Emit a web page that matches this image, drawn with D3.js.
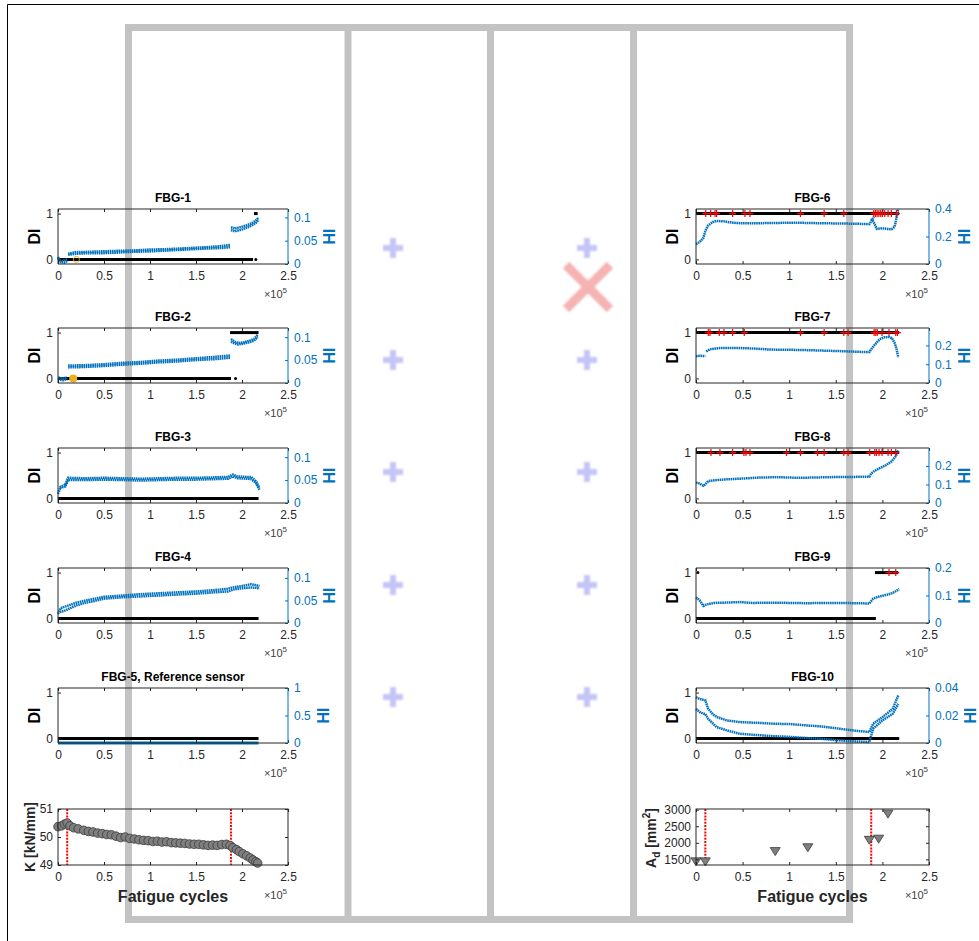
<!DOCTYPE html>
<html><head><meta charset="utf-8">
<script src="https://cdn.jsdelivr.net/npm/d3@7"></script>
<style>body{margin:0;background:#fff}svg{display:block}text{font-family:"Liberation Sans",Arial,Helvetica,sans-serif}</style>
</head><body><svg id="c" width="979" height="941"></svg>
<script>
// ---------------- DATA (cycles in units of 1e5) ----------------
const xTicks = [0, 0.5, 1, 1.5, 2, 2.5];
const diTicks = [0, 1];
const titles = ["FBG-1","FBG-2","FBG-3","FBG-4","FBG-5, Reference sensor","FBG-6","FBG-7","FBG-8","FBG-9","FBG-10"];
const hiMax = [0.118, 0.12, 0.12, 0.122, 1, 0.4, 0.293, 0.297, 0.2, 0.04];
const hiTicks = [[0,0.05,0.1],[0,0.05,0.1],[0,0.05,0.1],[0,0.05,0.1],[0,0.5,1],[0,0.2,0.4],[0,0.1,0.2],[0,0.1,0.2],[0,0.1,0.2],[0,0.02,0.04]];

// DI segments: [start, end, value]
const di1 = [[0,2.12,0],[2.15,2.15,0],[2.13,2.17,1]];
const di2 = [[0,1.88,0],[1.93,1.93,0],[1.87,2.18,1]];
const di3 = [[0,2.18,0]];
const di4 = [[0,2.18,0]];
const di5 = [[0,2.18,0]];
const di6 = [[0,2.18,1]];
const di7 = [[0,2.18,1]];
const di8 = [[0,2.18,1]];
const di9 = [[0,1.93,0],[1.92,2.17,1],[0.02,0.02,1]];
const di10 = [[0,2.18,0]];

// red '+' markers (DI = 1 detections)
const red6 = [0.104,0.157,0.204,0.221,0.393,0.525,0.579,1.121,1.375,1.586,1.907,1.925,1.943,1.962,1.982,2.0,2.025,2.061,2.096,2.15];
const red7 = [0.132,0.15,0.25,0.3,0.393,0.518,1.121,1.375,1.586,1.632,1.911,1.929,1.945,1.996,2.071,2.143,2.161];
const red8 = [0.161,0.257,0.393,0.514,0.536,0.579,0.971,1.121,1.304,1.375,1.586,1.632,1.864,1.918,1.936,1.964,1.996,2.061,2.096,2.143];
const red9 = [2.071,2.143];

// orange markers [x, DI]
const orange1 = [[0.2,0]];
const orange2 = [[0.165,0]];

// HI bands ([x, HI], null = gap)
const hi1a = [[0,0.012],[0.02,0.008],[0.05,0.006],[0.08,0.009],[0.1,0.01],null,[0.11,0.022],[0.2,0.026],[0.3,0.026],[0.45,0.027],[0.6,0.028],[0.8,0.029],[1.0,0.031],[1.2,0.032],[1.4,0.034],[1.6,0.036],[1.75,0.038],[1.87,0.041],null,[1.88,0.079],[1.92,0.076],[1.96,0.078],[2.0,0.08],[2.05,0.083],[2.1,0.087],[2.15,0.093],[2.18,0.1]];
const hi1b = [[0,0.015],[0.03,0.004],[0.07,0.003],[0.1,0.006],null,[0.11,0.02],[0.2,0.022],[0.3,0.023],[0.45,0.023],[0.6,0.024],[0.8,0.026],[1.0,0.027],[1.2,0.029],[1.4,0.031],[1.6,0.033],[1.75,0.034],[1.87,0.036],null,[1.88,0.073],[1.92,0.07],[1.96,0.072],[2.0,0.074],[2.05,0.078],[2.1,0.082],[2.15,0.088],[2.18,0.095]];
const hi2a = [[0,0.012],[0.05,0.01],[0.1,0.012],null,[0.11,0.038],[0.3,0.039],[0.5,0.041],[0.7,0.044],[0.9,0.046],[1.1,0.049],[1.3,0.051],[1.5,0.054],[1.7,0.057],[1.87,0.06],null,[1.88,0.096],[1.92,0.09],[1.96,0.087],[2.02,0.089],[2.08,0.092],[2.13,0.096],[2.17,0.105]];
const hi2b = [[0,0.008],[0.05,0.006],[0.1,0.008],null,[0.11,0.034],[0.3,0.035],[0.5,0.037],[0.7,0.04],[0.9,0.042],[1.1,0.045],[1.3,0.047],[1.5,0.05],[1.7,0.052],[1.87,0.055],null,[1.88,0.09],[1.92,0.086],[1.96,0.084],[2.02,0.086],[2.08,0.089],[2.13,0.092],[2.17,0.1]];
const hi3a = [[0,0.02],[0.03,0.036],[0.08,0.04],[0.11,0.055],[0.3,0.054],[0.5,0.055],[0.7,0.054],[0.9,0.053],[1.1,0.054],[1.3,0.055],[1.5,0.055],[1.7,0.056],[1.85,0.057],[1.9,0.062],[1.95,0.058],[2.05,0.057],[2.1,0.057],[2.15,0.048],[2.19,0.033]];
const hi3b = [[0.02,0.033],[0.08,0.036],[0.11,0.05],[0.3,0.05],[0.5,0.051],[0.7,0.05],[0.9,0.049],[1.1,0.05],[1.3,0.051],[1.5,0.051],[1.7,0.052],[1.85,0.053],[1.9,0.058],[1.95,0.054],[2.05,0.053],[2.1,0.052],[2.15,0.044],[2.19,0.029]];
const hi4a = [[0,0.02],[0.03,0.033],[0.1,0.038],[0.2,0.045],[0.3,0.05],[0.4,0.054],[0.5,0.058],[0.7,0.061],[0.9,0.064],[1.1,0.066],[1.3,0.068],[1.5,0.07],[1.7,0.073],[1.85,0.076],[1.9,0.079],[2.0,0.082],[2.1,0.086],[2.15,0.084],[2.19,0.082]];
const hi4b = [[0.02,0.024],[0.08,0.028],[0.2,0.039],[0.3,0.045],[0.4,0.049],[0.5,0.054],[0.7,0.057],[0.9,0.059],[1.1,0.061],[1.3,0.063],[1.5,0.065],[1.7,0.068],[1.85,0.07],[1.9,0.074],[2.0,0.077],[2.1,0.079],[2.15,0.078],[2.19,0.077]];
const hi5a = [[0,0],[2.18,0]];
const hi6a = [[0,0.145],[0.04,0.16],[0.08,0.19],[0.1,0.24],[0.13,0.28],[0.18,0.305],[0.22,0.313],[0.3,0.31],[0.4,0.3],[0.5,0.296],[0.7,0.297],[0.9,0.299],[1.1,0.3],[1.3,0.297],[1.5,0.295],[1.7,0.293],[1.86,0.29],[1.89,0.32],[1.91,0.345],null,[1.88,0.33],[1.91,0.3],[1.94,0.255],[2.0,0.26],[2.05,0.255],[2.1,0.253],[2.13,0.27],[2.15,0.33],[2.17,0.4]];
const hi7a = [[0,0.143],[0.05,0.145],[0.1,0.143],null,[0.11,0.168],[0.15,0.18],[0.25,0.186],[0.4,0.187],[0.6,0.184],[0.8,0.178],[1.0,0.177],[1.2,0.175],[1.4,0.172],[1.6,0.169],[1.75,0.166],[1.86,0.165],[1.88,0.18],[1.92,0.205],[1.97,0.233],[2.02,0.244],[2.07,0.245],[2.1,0.24],[2.13,0.215],[2.15,0.185],[2.17,0.137]];
const hi8a = [[0,0.11],[0.04,0.105],[0.08,0.093],[0.1,0.1],[0.13,0.118],[0.2,0.123],[0.3,0.127],[0.5,0.132],[0.7,0.138],[0.9,0.139],[1.1,0.136],[1.3,0.138],[1.5,0.14],[1.7,0.141],[1.86,0.142],[1.88,0.16],[1.92,0.175],[1.97,0.188],[2.04,0.205],[2.1,0.225],[2.14,0.25],[2.17,0.283]];
const hi9a = [[0,0.093],[0.04,0.082],[0.08,0.062],[0.11,0.067],[0.19,0.073],[0.3,0.074],[0.47,0.076],[0.6,0.073],[0.83,0.074],[1.0,0.073],[1.19,0.072],[1.4,0.073],[1.54,0.073],[1.7,0.072],[1.86,0.071],[1.9,0.088],[1.95,0.095],[2.0,0.099],[2.05,0.103],[2.11,0.109],[2.18,0.123]];
const hi10a = [[0,0.0333],[0.04,0.032],[0.1,0.031],[0.13,0.025],[0.18,0.021],[0.22,0.019],[0.33,0.0164],[0.47,0.0152],[0.65,0.0147],[0.83,0.014],[1.0,0.0138],[1.19,0.0128],[1.35,0.012],[1.54,0.0104],[1.7,0.009],[1.86,0.008],[1.9,0.014],[2.0,0.0188],[2.11,0.0248],[2.17,0.0345]];
const hi10b = [[0,0.0248],[0.05,0.022],[0.1,0.021],[0.13,0.0176],[0.22,0.0116],[0.33,0.0092],[0.47,0.0067],[0.65,0.0058],[0.83,0.005],[1.0,0.0045],[1.19,0.0036],[1.35,0.003],[1.54,0.0019],[1.7,0.0012],[1.86,0.0007],[1.9,0.0104],[2.0,0.0164],[2.11,0.0212],[2.17,0.0284]];

// stiffness K [kN/mm]
const kData = [[0,50.37],[0.04,50.4],[0.07,50.46],[0.1,50.5],[0.13,50.4],[0.17,50.33],[0.22,50.29],[0.28,50.24],[0.33,50.2],[0.38,50.18],[0.43,50.14],[0.48,50.12],[0.53,50.09],[0.58,50.08],[0.63,50.03],[0.68,49.98],[0.73,50.0],[0.78,49.95],[0.83,49.93],[0.88,49.9],[0.93,49.88],[0.98,49.87],[1.03,49.84],[1.08,49.85],[1.13,49.82],[1.18,49.83],[1.23,49.8],[1.28,49.79],[1.33,49.78],[1.38,49.77],[1.43,49.75],[1.48,49.74],[1.53,49.74],[1.58,49.72],[1.63,49.7],[1.68,49.71],[1.73,49.7],[1.78,49.73],[1.83,49.74],[1.87,49.7],[1.9,49.62],[1.94,49.55],[1.97,49.48],[2.01,49.4],[2.05,49.33],[2.09,49.25],[2.12,49.18],[2.15,49.12],[2.17,49.07]];
const kTicks = [49, 50, 51];
// delaminated area A_d [mm^2]
const adData = [[0,1440],[0.1,1440],[0.85,1750],[1.2,1865],[1.86,2090],[1.96,2125],[2.06,2880]];
const adTicks = [1500, 2000, 2500, 3000];
// vertical event lines
const eventLines = [0.1, 1.88];

// ---------------- DRAWING ----------------
const svg = d3.select("#c");
const BLUE = "#0072BD", AX = "#262626";

// outer black frame
svg.append("path").attr("d", "M7.5,941 V4.5 H979").attr("fill","none").attr("stroke","#000").attr("stroke-width",1);

// gray structure
const gray = svg.append("g").attr("stroke","#c3c3c3").attr("stroke-width",7).attr("fill","none");
gray.append("rect").attr("x",128.5).attr("y",27.5).attr("width",721).attr("height",892);
[348, 490.5, 633.5].forEach(xv => gray.append("line").attr("x1",xv).attr("x2",xv).attr("y1",27.5).attr("y2",919.5));

const defs = svg.append("defs");
defs.append("filter").attr("id","blur").append("feGaussianBlur").attr("stdDeviation",1.2);
const deco = svg.append("g").attr("filter","url(#blur)");
[393, 587].forEach(cx => [248, 360, 472, 585, 697].forEach(cy => {
  deco.append("rect").attr("x",cx-10).attr("y",cy-3).attr("width",20).attr("height",6).attr("fill","#c4c4f6");
  deco.append("rect").attr("x",cx-3).attr("y",cy-10).attr("width",6).attr("height",20).attr("fill","#c4c4f6");
}));
deco.append("path").attr("d","M566,265 L610,309 M610,265 L566,309").attr("stroke","#f5b3b3").attr("stroke-width",9).attr("fill","none");

const cols = [{x0:58, x1:288}, {x0:696, x1:929}];
const rowTops = [209, 328, 448, 568, 688];
const PH = 55;
const diArr = [di1,di2,di3,di4,di5,di6,di7,di8,di9,di10];
const hiArr = [[hi1a,hi1b],[hi2a,hi2b],[hi3a,hi3b],[hi4a,hi4b],[hi5a],[hi6a],[hi7a],[hi8a],[hi9a],[hi10a,hi10b]];
const redArr = [[],[],[],[],[],red6,red7,red8,red9,[]];
const orangeArr = [orange1, orange2, [],[],[],[],[],[],[],[]];

function styleAxis(g, color, size) {
  g.select(".domain").remove();
  g.selectAll("line").attr("stroke", color);
  g.selectAll("text").attr("fill", color).attr("font-size", size).attr("font-family", '"Liberation Sans",Arial,sans-serif');
}
function xLabelExp(g, xr, yb) {
  const t = g.append("text").attr("x", xr).attr("y", yb + 34).attr("text-anchor","end").attr("fill","#404040").attr("font-size",11);
  t.append("tspan").text("\u00d710");
  t.append("tspan").attr("dy",-5).attr("font-size",8).text("5");
}

function hiPanel(i) {
  const c = cols[i < 5 ? 0 : 1];
  const top = rowTops[i % 5], bot = top + PH;
  const g = svg.append("g");
  const x = d3.scaleLinear().domain([0, 2.5]).range([c.x0, c.x1]);
  const yD = d3.scaleLinear().domain([-0.1, 1.1]).range([bot, top]);
  const yH = d3.scaleLinear().domain([0, hiMax[i]]).range([bot, top]);

  // DI segments
  diArr[i].forEach(s => {
    if (s[0] === s[1]) g.append("circle").attr("cx", x(s[0])).attr("cy", yD(s[2])).attr("r", 1.5).attr("fill","#000");
    else g.append("line").attr("x1", x(s[0])).attr("x2", x(s[1])).attr("y1", yD(s[2])).attr("y2", yD(s[2])).attr("stroke","#000").attr("stroke-width",3);
  });
  // HI bands
  const line = d3.line().defined(d => d !== null).x(d => x(d[0])).y(d => yH(d[1]));
  hiArr[i].forEach(band => {
    g.append("path").attr("d", line(band)).attr("fill","none").attr("stroke", BLUE)
      .attr("stroke-width", i === 4 ? 3 : 2.5).attr("stroke-dasharray", i === 4 ? null : "1.6 0.6");
  });
  // red plus markers
  redArr[i].forEach(v => {
    g.append("path").attr("d", `M${x(v)-3.5},${yD(1)} h7 M${x(v)},${yD(1)-3.5} v7`).attr("stroke","#ff0000").attr("stroke-width",1.2);
  });
  // orange markers
  orangeArr[i].forEach(d => {
    if (i === 0) g.append("circle").attr("cx", x(d[0])).attr("cy", yD(d[1])).attr("r", 3).attr("fill","none").attr("stroke","#EDB120").attr("stroke-width",1);
    else g.append("circle").attr("cx", x(d[0])).attr("cy", yD(d[1])).attr("r", 4).attr("fill","#EDB120");
  });

  // axes
  const gb = g.append("g").attr("transform", `translate(0,${bot})`)
    .call(d3.axisBottom(x).tickValues(xTicks).tickSize(-3).tickPadding(7).tickFormat(d => String(d)));
  styleAxis(gb, AX, 12);
  const gt = g.append("g").attr("transform", `translate(0,${top})`)
    .call(d3.axisTop(x).tickValues(xTicks).tickSize(-3).tickFormat(""));
  styleAxis(gt, AX, 12);
  const gl = g.append("g").attr("transform", `translate(${c.x0},0)`)
    .call(d3.axisLeft(yD).tickValues(diTicks).tickSize(-3).tickPadding(5).tickFormat(d => String(d)));
  styleAxis(gl, AX, 12);
  const gr = g.append("g").attr("transform", `translate(${c.x1},0)`)
    .call(d3.axisRight(yH).tickValues(hiTicks[i]).tickSize(-3).tickPadding(6).tickFormat(d => String(d)));
  styleAxis(gr, BLUE, 12);
  g.append("path").attr("d", `M${c.x0},${bot} V${top} H${c.x1}`).attr("fill","none").attr("stroke", AX);
  g.append("line").attr("x1", c.x0).attr("x2", c.x1).attr("y1", bot).attr("y2", bot).attr("stroke", AX);
  g.append("line").attr("x1", c.x1).attr("x2", c.x1).attr("y1", bot).attr("y2", top).attr("stroke", BLUE);

  let wmax = 0;
  gr.selectAll("text").each(function() { wmax = Math.max(wmax, this.getComputedTextLength()); });

  g.append("text").attr("x", (c.x0 + c.x1) / 2).attr("y", top - 7).attr("text-anchor","middle")
    .attr("font-weight","bold").attr("font-size",12).attr("fill","#000").text(titles[i]);
  g.append("text").attr("transform", `translate(${c.x0 - 18},${(top + bot) / 2}) rotate(-90)`).attr("text-anchor","middle")
    .attr("font-weight","bold").attr("font-size",16).attr("fill","#000").text("DI");
  g.append("text").attr("transform", `translate(${c.x1 + 6 + wmax + 18},${(top + bot) / 2}) rotate(-90)`).attr("text-anchor","middle")
    .attr("font-weight","bold").attr("font-size",16).attr("fill", BLUE).text("HI");
  xLabelExp(g, c.x1 - 1, bot);
}
for (let i = 0; i < 10; i++) hiPanel(i);

function bottomPanel(ci, data, yDom, ticks, kind) {
  const c = cols[ci];
  const top = 809, bot = 865;
  const g = svg.append("g");
  const x = d3.scaleLinear().domain([0, 2.5]).range([c.x0, c.x1]);
  const y = d3.scaleLinear().domain(yDom).range([bot, top]);
  eventLines.forEach(v => g.append("line").attr("x1", x(v)).attr("x2", x(v)).attr("y1", top).attr("y2", bot)
    .attr("stroke","#ff0000").attr("stroke-width",2).attr("stroke-dasharray","2 1.2"));
  if (kind === "k") {
    g.selectAll("circle.k").data(data).join("circle").attr("cx", d => x(d[0])).attr("cy", d => y(d[1])).attr("r", 4.3)
      .attr("fill","#7f7f7f").attr("stroke","#3a3a3a").attr("stroke-width",0.8);
  } else {
    g.selectAll("path.t").data(data).join("path")
      .attr("d", d => `M${x(d[0])-5},${y(d[1])-3.5} L${x(d[0])+5},${y(d[1])-3.5} L${x(d[0])},${y(d[1])+4.5} Z`)
      .attr("fill","#7f7f7f").attr("stroke","#3a3a3a").attr("stroke-width",0.8);
  }
  const gb = g.append("g").attr("transform", `translate(0,${bot})`)
    .call(d3.axisBottom(x).tickValues(xTicks).tickSize(-3).tickPadding(7).tickFormat(d => String(d)));
  styleAxis(gb, AX, 12);
  const gt = g.append("g").attr("transform", `translate(0,${top})`).call(d3.axisTop(x).tickValues(xTicks).tickSize(-3).tickFormat(""));
  styleAxis(gt, AX, 12);
  const gl = g.append("g").attr("transform", `translate(${c.x0},0)`)
    .call(d3.axisLeft(y).tickValues(ticks).tickSize(-3).tickPadding(5).tickFormat(d => String(d)));
  styleAxis(gl, AX, 12);
  const gr = g.append("g").attr("transform", `translate(${c.x1},0)`).call(d3.axisRight(y).tickValues(ticks).tickSize(-3).tickFormat(""));
  styleAxis(gr, AX, 12);
  g.append("rect").attr("x", c.x0).attr("y", top).attr("width", c.x1 - c.x0).attr("height", bot - top).attr("fill","none").attr("stroke", AX);
  g.append("text").attr("x", (c.x0 + c.x1) / 2).attr("y", 902).attr("text-anchor","middle").attr("font-weight","bold")
    .attr("font-size",16).attr("fill","#262626").text("Fatigue cycles");
  xLabelExp(g, c.x1 - 1, bot);
  if (kind === "k") {
    g.append("text").attr("transform", `translate(${c.x0 - 23},${(top + bot) / 2}) rotate(-90)`).attr("text-anchor","middle")
      .attr("font-weight","bold").attr("font-size",14).attr("fill","#262626").text("K [kN/mm]");
  } else {
    const t = g.append("text").attr("transform", `translate(${c.x0 - 40},${(top + bot) / 2 + 1}) rotate(-90)`).attr("text-anchor","middle")
      .attr("font-weight","bold").attr("font-size",14).attr("fill","#262626");
    t.append("tspan").text("A");
    t.append("tspan").attr("dy",4).attr("font-size",10).text("d");
    t.append("tspan").attr("dy",-4).text(" [mm");
    t.append("tspan").attr("dy",-6).attr("font-size",10).text("2");
    t.append("tspan").attr("dy",6).text("]");
  }
}
bottomPanel(0, kData, [49, 51], kTicks, "k");
bottomPanel(1, adData, [1330, 3020], adTicks, "ad");
</script></body></html>
